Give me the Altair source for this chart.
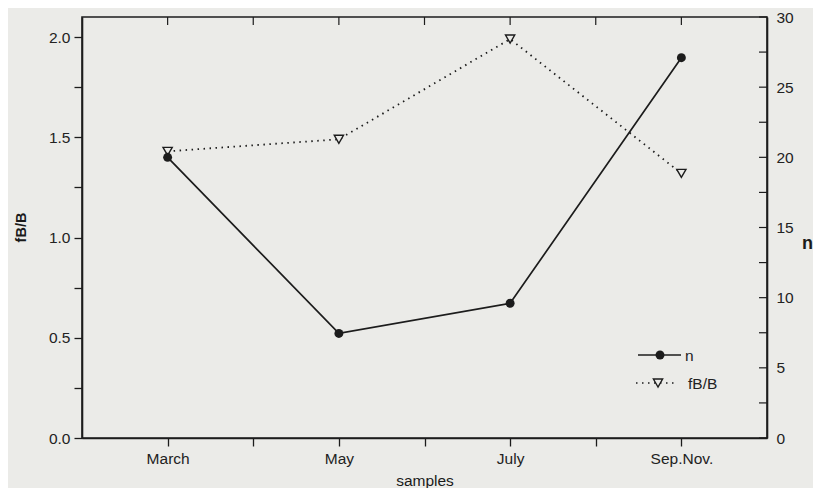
import altair as alt
import pandas as pd

# ---- data ----
categories = ["March", "May", "July", "Sep.Nov."]
n_values = [20.0, 7.45, 9.6, 27.1]
fbb_values = [1.43, 1.49, 1.99, 1.32]
x_ticks = [0.5, 1.0, 1.5, 2.0, 2.5, 3.0, 3.5]
left_ticks = [0.0, 0.25, 0.5, 0.75, 1.0, 1.25, 1.5, 1.75, 2.0]
right_ticks = [0, 2.5, 5, 7.5, 10, 12.5, 15, 17.5, 20, 22.5, 25, 27.5, 30]
legend_labels = ["n", "fB/B"]

df = pd.DataFrame({
    "pos": [i + 0.5 for i in range(len(categories))],
    "cat": categories,
    "n": n_values,
    "fbb": fbb_values,
})
top_tick_df = pd.DataFrame({"pos": x_ticks})
right_tick_df = pd.DataFrame({"n": right_ticks})

W, H = 685, 421
FONT = "Liberation Sans"
INK = "#1c1c1c"
BG = "#ebebe8"
TXT = "#222222"

label_expr = " : ".join(
    f"datum.value == {i + 0.5} ? '{c}'" for i, c in enumerate(categories)
) + " : ''"

x_enc = alt.X(
    "pos:Q",
    scale=alt.Scale(domain=[0, 4], nice=False, zero=False),
    axis=alt.Axis(
        values=x_ticks, labelExpr=label_expr, title="samples", grid=False,
        tickSize=8, labelPadding=5, titlePadding=7,
        labelFontSize=15.5, titleFontSize=15.5, titleFontWeight="normal",
    ),
)

y_left = alt.Y(
    "fbb:Q",
    scale=alt.Scale(domain=[0, 2.1], nice=False),
    axis=alt.Axis(
        values=left_ticks, grid=False, tickSize=8, labelPadding=4,
        labelExpr="datum.value % 0.5 == 0 ? format(datum.value, '.1f') : ''",
        labelFontSize=15.5, title="fB/B", titleFontSize=14.5, titleFontWeight="bold",
        titleAngle=-90, titleX=-61, titleY=210, titleAlign="center",
        titleBaseline="middle",
    ),
)

y_right = alt.Y(
    "n:Q",
    scale=alt.Scale(domain=[0, 30], nice=False),
    axis=alt.Axis(
        orient="right", values=right_ticks, grid=False, ticks=False,
        labelPadding=9,
        labelExpr="datum.value % 5 == 0 ? datum.value : ''",
        labelFontSize=15.5, title="n", titleFontSize=18, titleFontWeight="bold",
        titleAngle=0, titleX=40, titleY=226, titleAlign="center",
        titleBaseline="middle",
    ),
)

base_f = alt.Chart(df).encode(x=x_enc, y=y_left)
line_f = base_f.mark_line(strokeDash=[1.5, 4.5], strokeWidth=1.8, color=INK)
pts_f = base_f.mark_point(shape="triangle-down", size=85, filled=True,
                          fill=BG, stroke=INK, strokeWidth=1.4, opacity=1)
top_ticks = alt.Chart(top_tick_df).mark_rule(color=INK, strokeWidth=1.2).encode(
    x=alt.X("pos:Q"), y=alt.value(0), y2=alt.value(8)
)
layer_f = alt.layer(line_f, pts_f, top_ticks)

base_n = alt.Chart(df).encode(x=alt.X("pos:Q"), y=y_right)
line_n = base_n.mark_line(strokeWidth=1.7, color=INK)
pts_n = base_n.mark_point(shape="circle", size=80, filled=True, color=INK, opacity=1)
right_ticks_m = alt.Chart(right_tick_df).mark_rule(color=INK, strokeWidth=1.2).encode(
    y=alt.Y("n:Q"), x=alt.value(W - 8), x2=alt.value(W)
)
layer_n = alt.layer(line_n, pts_n, right_ticks_m)

# ---- legend (inside plot) ----
leg = alt.Chart(pd.DataFrame({"a": [0]}))
leg_line_n = leg.mark_rule(color=INK, strokeWidth=1.6).encode(
    x=alt.value(556), x2=alt.value(599), y=alt.value(338))
leg_pt_n = leg.mark_point(shape="circle", size=80, filled=True, color=INK, opacity=1).encode(
    x=alt.value(578), y=alt.value(338))
leg_txt_n = leg.mark_text(align="left", baseline="middle", fontSize=15.5, font=FONT,
                          color=TXT).encode(
    x=alt.value(603), y=alt.value(339), text=alt.value(legend_labels[0]))
leg_line_f = leg.mark_rule(color=INK, strokeWidth=1.7, strokeDash=[1.5, 4.5]).encode(
    x=alt.value(554), x2=alt.value(592), y=alt.value(366))
leg_pt_f = leg.mark_point(shape="triangle-down", size=85, filled=True, fill=BG,
                          stroke=INK, strokeWidth=1.4, opacity=1).encode(
    x=alt.value(576), y=alt.value(366))
leg_txt_f = leg.mark_text(align="left", baseline="middle", fontSize=15.5, font=FONT,
                          color=TXT).encode(
    x=alt.value(606), y=alt.value(367), text=alt.value(legend_labels[1]))
legend = alt.layer(leg_line_n, leg_pt_n, leg_txt_n, leg_line_f, leg_pt_f, leg_txt_f)

chart = alt.layer(layer_f, layer_n, legend).resolve_scale(y="independent").properties(
    width=W, height=H,
    autosize=alt.AutoSizeParams(type="none"),
    padding={"left": 74, "top": 9, "right": 46, "bottom": 50},
    background=BG,
).configure_view(
    stroke=INK, strokeWidth=1.6
).configure_axis(
    domainColor=INK, domainWidth=1.6, tickColor=INK, tickWidth=1.3,
    labelColor=TXT, titleColor="#1a1a1a", labelFont=FONT, titleFont=FONT,
)

chart.save("out.html", embed_options={"renderer": "svg", "actions": False})
